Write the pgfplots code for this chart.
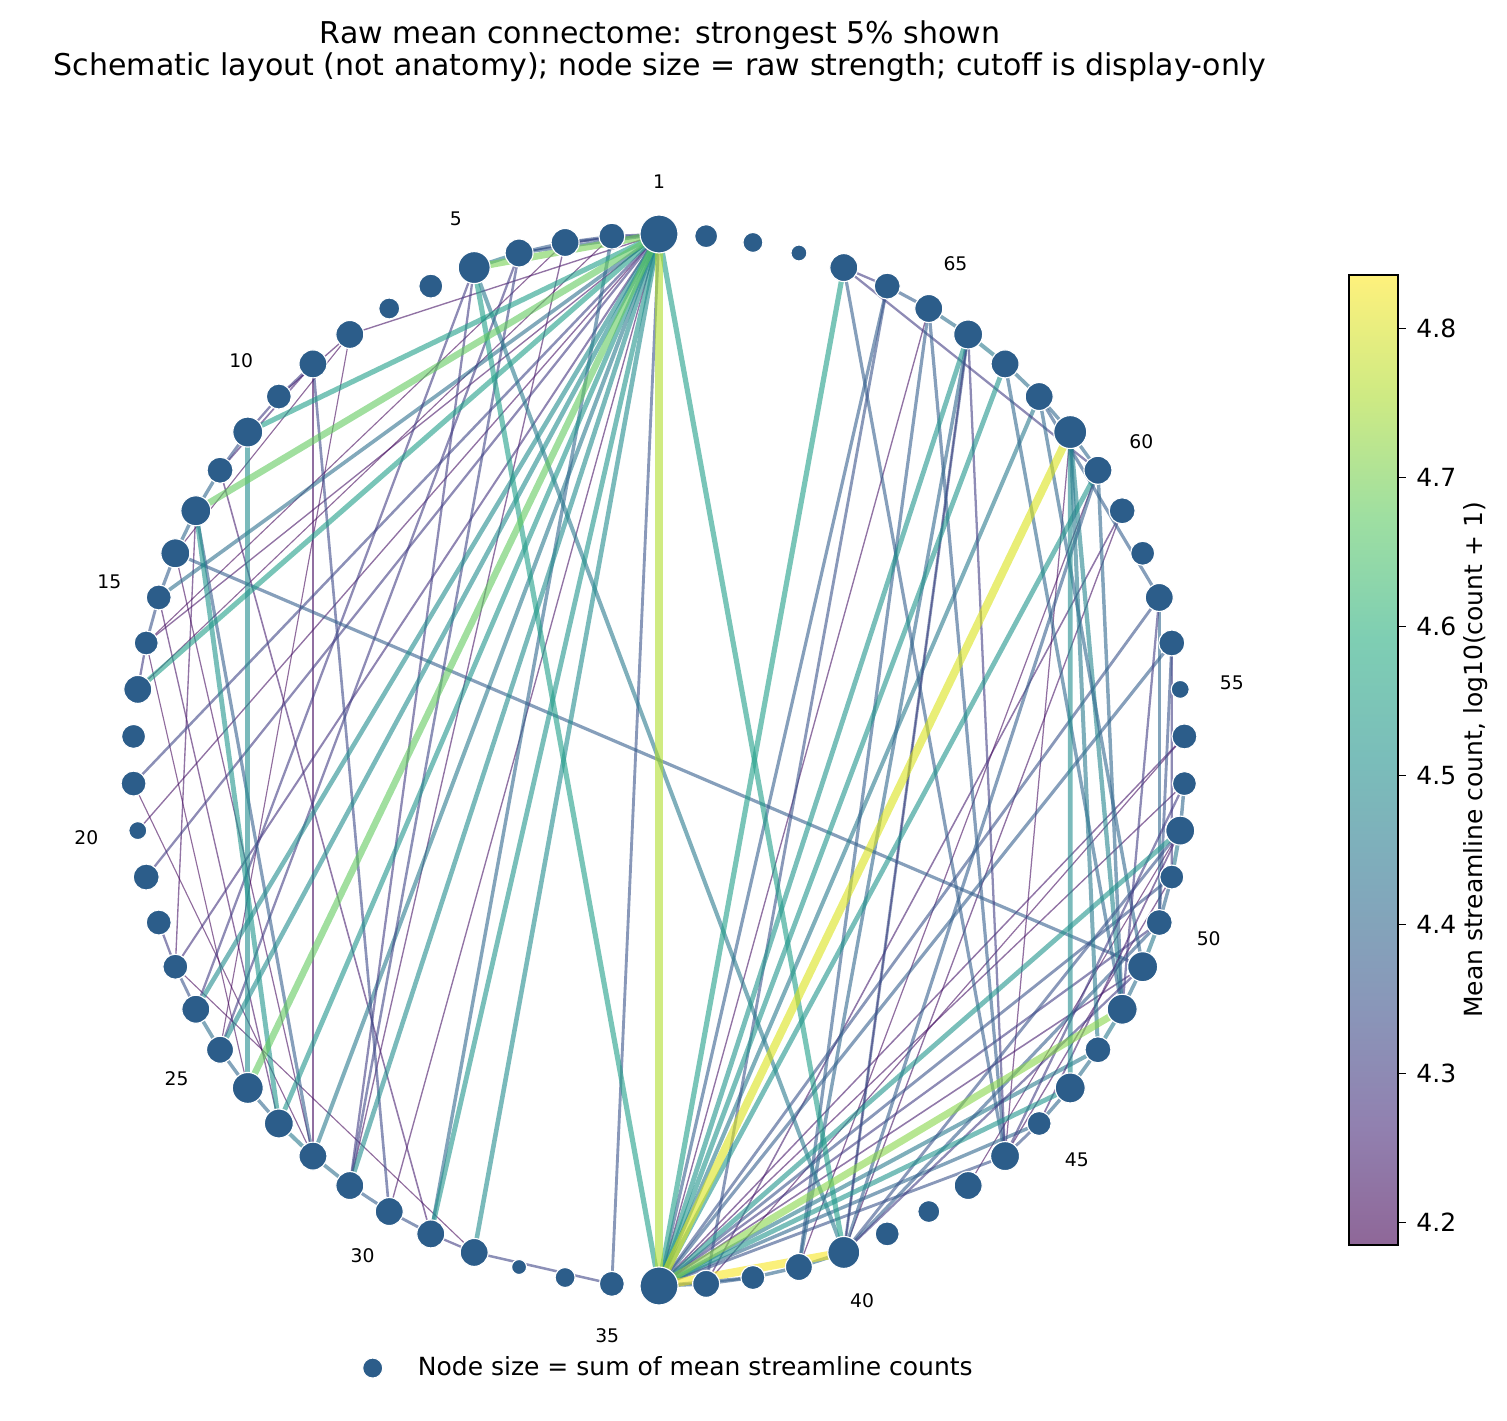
\documentclass[border=0pt]{standalone}
\usepackage{pgfplots}
\pgfplotsset{compat=1.18}
\usepgfplotslibrary{colormaps}
\usepackage{fontspec}
\setmainfont{DejaVu Sans}
\definecolor{nodeblue}{RGB}{44,93,138}
\pgfplotsset{colormap={fviridis}{rgb255=(143,103,152) rgb255=(145,129,176) rgb255=(137,151,185) rgb255=(128,170,187) rgb255=(122,189,186) rgb255=(126,206,179) rgb255=(158,223,161) rgb255=(206,234,131) rgb255=(254,241,124)}}
\newcommand\edgeplot[3]{%
\addplot[mesh, forget plot, opacity=0.6, line width={0.46pt+3.6pt*(#3-4.185)/0.651}, point meta={#3}]
 table[row sep=\\, x expr={cos(90+(\thisrow{n}-1)*5.142857)}, y expr={sin(90+(\thisrow{n}-1)*5.142857)}] {n\\ #1\\ #2\\};}
\newcommand\nd[2]{%
\addplot[only marks, mark=*, forget plot, mark size={0.48pt*#2}, mark options={fill=nodeblue, draw=white, line width=0.55pt}]
 table[row sep=\\, x expr={cos(90+(\thisrow{n}-1)*5.142857)}, y expr={sin(90+(\thisrow{n}-1)*5.142857)}] {n\\ #1\\};}
\begin{document}
\begin{tikzpicture}
\path[use as bounding box] (0pt,0pt) rectangle (723.36pt,-682.08pt);
\begin{axis}[at={(316.32pt,-364.8pt)}, anchor=center, scale only axis,
  width=631.2pt, height=631.2pt, xmin=-1.25, xmax=1.25, ymin=-1.25, ymax=1.25,
  hide axis, clip=false, colormap/viridis, point meta min=4.185, point meta max=4.836,
  legend style={draw=none, fill=none, at={(axis cs:-0.577,-1.156)}, anchor=west,
    font=\fontsize{12}{14}\selectfont}, legend cell align=left]
% thin
\edgeplot{1}{8}{4.22}\edgeplot{1}{30}{4.22}\edgeplot{1}{16}{4.22}\edgeplot{17}{2}{4.20}
\edgeplot{16}{3}{4.20}\edgeplot{14}{8}{4.20}\edgeplot{15}{27}{4.22}\edgeplot{16}{26}{4.20}
\edgeplot{13}{23}{4.22}\edgeplot{23}{32}{4.20}\edgeplot{19}{28}{4.20}\edgeplot{14}{28}{4.21}
\edgeplot{8}{25}{4.20}\edgeplot{9}{28}{4.21}\edgeplot{3}{29}{4.22}\edgeplot{36}{65}{4.22}
\edgeplot{36}{53}{4.22}\edgeplot{36}{49}{4.24}\edgeplot{59}{37}{4.24}\edgeplot{64}{40}{4.22}
\edgeplot{59}{40}{4.22}\edgeplot{54}{37}{4.21}\edgeplot{61}{44}{4.21}\edgeplot{44}{51}{4.22}
\edgeplot{43}{52}{4.20}\edgeplot{1}{20}{4.22}\edgeplot{12}{31}{4.24}\edgeplot{2}{4}{4.25}
\edgeplot{8}{10}{4.22}\edgeplot{12}{9}{4.25}\edgeplot{60}{39}{4.21}\edgeplot{36}{54}{4.23}
% medium
\edgeplot{1}{19}{4.32}\edgeplot{1}{21}{4.30}\edgeplot{1}{23}{4.28}\edgeplot{1}{35}{4.35}
\edgeplot{1}{15}{4.42}\edgeplot{1}{2}{4.32}\edgeplot{1}{3}{4.35}\edgeplot{1}{4}{4.38}
\edgeplot{1}{28}{4.45}\edgeplot{5}{29}{4.30}\edgeplot{5}{24}{4.30}\edgeplot{4}{25}{4.30}
\edgeplot{4}{29}{4.32}\edgeplot{2}{31}{4.40}\edgeplot{9}{30}{4.33}\edgeplot{13}{28}{4.38}
\edgeplot{14}{49}{4.38}
\edgeplot{2}{3}{4.35}\edgeplot{3}{4}{4.38}\edgeplot{4}{5}{4.45}\edgeplot{9}{10}{4.30}
\edgeplot{10}{11}{4.30}\edgeplot{11}{12}{4.35}\edgeplot{12}{13}{4.40}\edgeplot{13}{14}{4.40}
\edgeplot{14}{15}{4.38}\edgeplot{15}{16}{4.35}\edgeplot{16}{17}{4.30}\edgeplot{22}{23}{4.30}
\edgeplot{23}{24}{4.35}\edgeplot{24}{25}{4.42}\edgeplot{25}{26}{4.40}\edgeplot{26}{27}{4.40}
\edgeplot{27}{28}{4.45}\edgeplot{28}{29}{4.42}\edgeplot{29}{30}{4.38}\edgeplot{30}{31}{4.35}
\edgeplot{31}{32}{4.30}\edgeplot{32}{35}{4.32}
\edgeplot{36}{66}{4.38}\edgeplot{36}{62}{4.45}\edgeplot{36}{57}{4.35}\edgeplot{36}{56}{4.38}
\edgeplot{36}{51}{4.35}\edgeplot{36}{50}{4.30}\edgeplot{36}{45}{4.40}
\edgeplot{36}{44}{4.35}\edgeplot{36}{37}{4.40}\edgeplot{36}{38}{4.38}\edgeplot{36}{47}{4.45}
\edgeplot{37}{38}{4.38}\edgeplot{38}{39}{4.40}\edgeplot{39}{40}{4.42}\edgeplot{44}{45}{4.35}
\edgeplot{45}{46}{4.40}\edgeplot{46}{47}{4.42}\edgeplot{47}{48}{4.45}\edgeplot{48}{49}{4.42}
\edgeplot{49}{50}{4.45}\edgeplot{50}{51}{4.40}\edgeplot{51}{52}{4.45}\edgeplot{52}{53}{4.40}
\edgeplot{60}{61}{4.40}\edgeplot{61}{62}{4.40}\edgeplot{62}{63}{4.42}\edgeplot{63}{64}{4.45}
\edgeplot{64}{65}{4.42}\edgeplot{65}{66}{4.38}\edgeplot{66}{67}{4.30}\edgeplot{67}{60}{4.30}
\edgeplot{61}{48}{4.48}\edgeplot{62}{49}{4.40}\edgeplot{63}{48}{4.40}\edgeplot{67}{44}{4.38}
\edgeplot{65}{44}{4.38}\edgeplot{64}{44}{4.30}\edgeplot{39}{65}{4.38}\edgeplot{39}{64}{4.40}
\edgeplot{37}{66}{4.35}\edgeplot{40}{64}{4.35}\edgeplot{40}{60}{4.38}
\edgeplot{62}{57}{4.38}\edgeplot{57}{50}{4.40}\edgeplot{57}{48}{4.30}\edgeplot{56}{51}{4.30}
\edgeplot{60}{48}{4.40}\edgeplot{56}{50}{4.35}\edgeplot{40}{52}{4.35}\edgeplot{40}{50}{4.38}
\edgeplot{40}{49}{4.30}\edgeplot{44}{53}{4.30}\edgeplot{45}{52}{4.25}\edgeplot{5}{40}{4.45}
% teal
\edgeplot{1}{40}{4.55}\edgeplot{1}{11}{4.55}\edgeplot{1}{17}{4.55}\edgeplot{1}{24}{4.50}
\edgeplot{1}{25}{4.50}\edgeplot{1}{27}{4.52}\edgeplot{1}{29}{4.50}\edgeplot{1}{31}{4.52}
\edgeplot{1}{32}{4.50}\edgeplot{11}{26}{4.50}\edgeplot{13}{27}{4.52}\edgeplot{5}{36}{4.55}
\edgeplot{36}{67}{4.55}\edgeplot{36}{64}{4.52}\edgeplot{36}{63}{4.52}\edgeplot{36}{60}{4.52}
\edgeplot{36}{52}{4.52}\edgeplot{36}{46}{4.52}\edgeplot{61}{46}{4.50}\edgeplot{61}{47}{4.45}
% strong
\edgeplot{1}{26}{4.68}\edgeplot{1}{13}{4.68}\edgeplot{1}{5}{4.70}\edgeplot{36}{48}{4.72}
\edgeplot{1}{36}{4.76}\edgeplot{36}{61}{4.80}\edgeplot{36}{40}{4.83}
% nodes (index, radius in px)
\nd{1}{19}\nd{2}{13}\nd{3}{14}\nd{4}{14}\nd{5}{16}\nd{6}{12}\nd{7}{10.5}\nd{8}{14}
\nd{9}{14}\nd{10}{12.5}\nd{11}{15}\nd{12}{13}\nd{13}{15}\nd{14}{14.5}\nd{15}{12.5}
\nd{16}{12}\nd{17}{14}\nd{18}{12}\nd{19}{12.5}\nd{20}{9}\nd{21}{13}\nd{22}{12.5}
\nd{23}{12.5}\nd{24}{14}\nd{25}{13.5}\nd{26}{15.5}\nd{27}{14.5}\nd{28}{14}\nd{29}{14}
\nd{30}{14}\nd{31}{14}\nd{32}{14}\nd{33}{7.5}\nd{34}{10}\nd{35}{12.5}\nd{36}{19}
\nd{37}{13.5}\nd{38}{12}\nd{39}{13.5}\nd{40}{16}\nd{41}{12}\nd{42}{11}\nd{43}{14}
\nd{44}{14.5}\nd{45}{12}\nd{46}{15}\nd{47}{13}\nd{48}{15}\nd{49}{15}\nd{50}{13}
\nd{51}{12}\nd{52}{14.5}\nd{53}{12}\nd{54}{12.5}\nd{55}{9}\nd{56}{13}\nd{57}{14}
\nd{58}{12}\nd{59}{13}\nd{60}{14}\nd{61}{16.5}\nd{62}{14}\nd{63}{14}\nd{64}{14.5}
\nd{65}{14}\nd{66}{13}\nd{67}{14}\nd{68}{8}\nd{69}{10}\nd{70}{11.5}
\addlegendimage{legend image code/.code={\draw[fill=nodeblue, draw=white, line width=0.5pt] (0pt,0pt) circle (4.8pt); \path (19.5pt,0pt);}}
\addlegendentry{Node size = sum of mean streamline counts}
\end{axis}
% colorbar
\begin{axis}[at={(647.52pt,-132pt)}, anchor=north west, scale only axis, width=1pt, height=465.6pt,
  hide axis, colormap name=fviridis, point meta min=4.185, point meta max=4.836,
  colorbar, colorbar shift/.style={}, colorbar/width=23.52pt,
  colorbar style={at={(parent axis.north west)}, anchor=north west, scale only axis,
    height=465.6pt, ytick={4.2,4.3,4.4,4.5,4.6,4.7,4.8}, ytick pos=right,
    yticklabel style={xshift=1.5pt, font=\fontsize{12}{14}\selectfont, /pgf/number format/.cd, fixed, precision=1, fixed zerofill, assume math mode=true},
    major tick length=3.8pt, tick align=outside, axis line style={line width=0.7pt},
    every tick/.style={black, line width=0.7pt}}]
\addplot[draw=none] coordinates {(0,0)};
\end{axis}
\node[rotate=90, font=\fontsize{12}{14}\selectfont] at (708.5pt,-364.8pt) {Mean streamline count, log10(count + 1)};
\node[align=center, font=\fontsize{14.4}{15.4}\selectfont] at (316.8pt,-24.6pt) {Raw mean connectome: strongest 5\% shown\\Schematic layout (not anatomy); node size = raw strength; cutoff is display-only};
\begin{scope}[shift={(316.32pt,-364.8pt)}]
\foreach \k in {1,5,10,15,...,65}{
  \node[font=\fontsize{9}{11}\selectfont] at ({90+(\k-1)*5.142857}:277.44pt) {\k};
}
\end{scope}
\end{tikzpicture}
\end{document}
